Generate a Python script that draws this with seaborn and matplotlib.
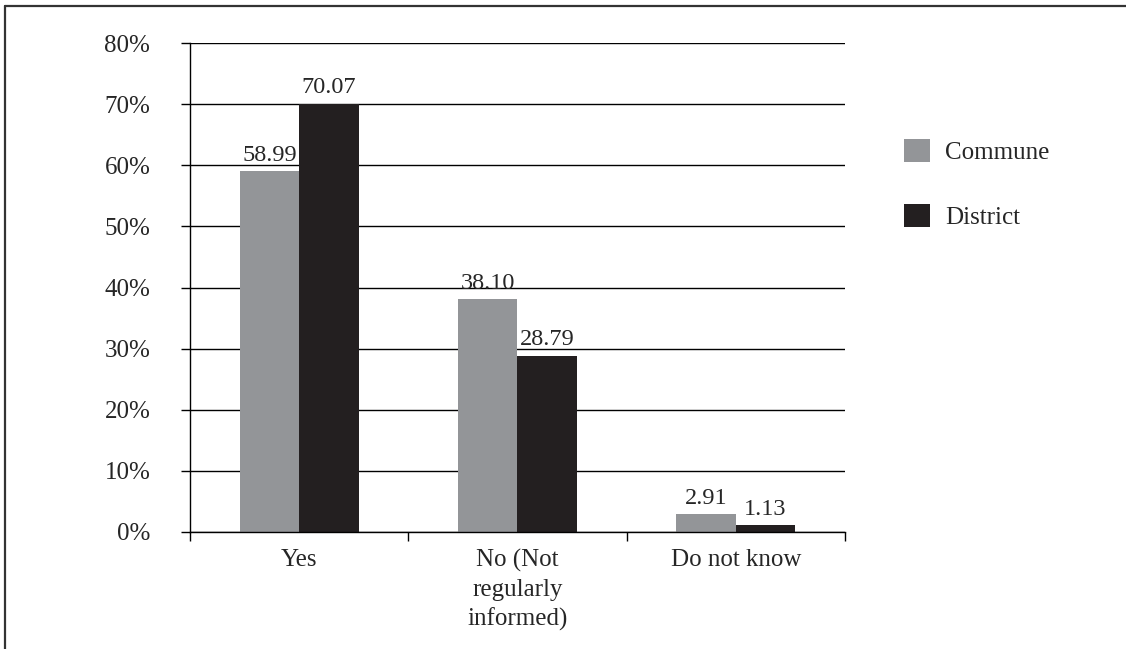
import matplotlib
matplotlib.use("Agg")
import matplotlib.pyplot as plt
from matplotlib.patches import Patch
from matplotlib.lines import Line2D
from matplotlib.ticker import FuncFormatter
import pandas as pd
import seaborn as sns

# dados
categories = ["Yes", "No (Not\nregularly\ninformed)", "Do not know"]
commune = [58.99, 38.10, 2.91]
district = [70.07, 28.79, 1.13]
series = ["Commune", "District"]
colors = ["#939598", "#231f20"]

df = pd.DataFrame({
    "cat": categories * 2,
    "val": commune + district,
    "grp": [series[0]] * 3 + [series[1]] * 3,
})

sns.set_theme(style="white")
plt.rcParams["font.family"] = ["Liberation Serif", "DejaVu Serif"]

fig = plt.figure(figsize=(11.26, 6.49), dpi=100)
ax = fig.add_axes([0.1687, 0.1803, 0.5817, 0.7534])

sns.barplot(data=df, x="cat", y="val", hue="grp", order=categories,
            hue_order=series, palette=colors, width=0.545, gap=0,
            saturation=1, ax=ax, legend=False, edgecolor="none")

for c in ax.containers:
    ax.bar_label(c, fmt="%.2f", fontsize=17.5, padding=4)

ax.set_ylim(0, 80)
ax.set_xlim(-0.5, 2.5)
ax.set_yticks(range(0, 81, 10))
ax.yaxis.set_major_formatter(FuncFormatter(lambda v, p: f"{v:.0f}%"))
ax.yaxis.grid(True, color="black", linewidth=1)
ax.set_axisbelow(True)

# ticks do eixo x nas fronteiras, rótulos no centro
ax.set_xticks([-0.5, 0.5, 1.5, 2.5])
ax.set_xticklabels([])
ax.set_xticks([0, 1, 2], minor=True)
ax.set_xticklabels(categories, minor=True, fontsize=18, linespacing=1.4)
ax.tick_params(axis="x", which="minor", length=0, pad=12)
ax.tick_params(axis="x", which="major", length=6.5, width=1, color="black", direction="out", bottom=True)
ax.tick_params(axis="y", length=6.5, width=1, color="black", direction="out", left=True, labelsize=18, pad=22)
ax.set_xlabel("")
ax.set_ylabel("")

for s in ["top", "right"]:
    ax.spines[s].set_visible(False)
for s in ["left", "bottom"]:
    ax.spines[s].set_color("black")
    ax.spines[s].set_linewidth(1)

handles = [Patch(facecolor=c, edgecolor="none") for c in colors]
fig.legend(handles, series, loc="upper left", bbox_to_anchor=(904 / 1126, 1 - 139 / 649),
           frameon=False, fontsize=18, handlelength=1.05, handleheight=1.05,
           labelspacing=1.6, handletextpad=0.6, borderpad=0, borderaxespad=0)

# moldura (só em cima e à esquerda)
fig.add_artist(Line2D([0.0045, 1.0], [0.9915, 0.9915], transform=fig.transFigure,
                      color="#333333", linewidth=1.6))
fig.add_artist(Line2D([0.0045, 0.0045], [0.0, 0.9915], transform=fig.transFigure,
                      color="#333333", linewidth=1.6))

fig.savefig("out.png", dpi=100)
